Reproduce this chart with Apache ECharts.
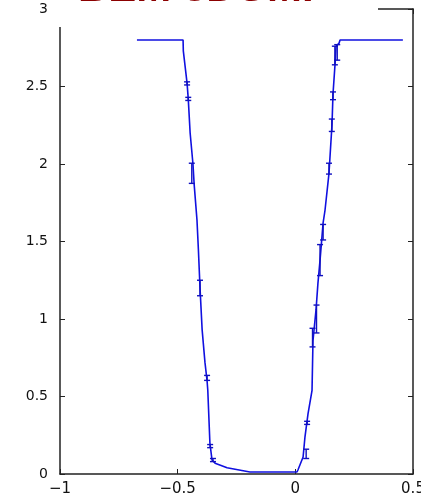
<!DOCTYPE html>
<html>
<head>
<meta charset="utf-8">
<style>
  html, body { margin: 0; padding: 0; background: #fff; }
  #chart { width: 421px; height: 500px; }
</style>
<script src="https://cdn.jsdelivr.net/npm/echarts@6/dist/echarts.min.js"></script>
</head>
<body>
<div id="chart"></div>
<script>
// profile (mean values)
const profileX = [-0.673, -0.477, -0.476, -0.46, -0.455, -0.447, -0.435, -0.43, -0.418, -0.412, -0.405,
  -0.396, -0.384, -0.375, -0.372, -0.363, -0.354, -0.341, -0.29, -0.193, 0.007, 0.011, 0.033, 0.041,
  0.054, 0.071, 0.075, 0.088, 0.096, 0.105, 0.118, 0.126, 0.143, 0.156, 0.16, 0.169, 0.173, 0.186, 0.19, 0.457];
const profileY = [2.8, 2.8, 2.73, 2.52, 2.42, 2.2, 2.0, 1.87, 1.64, 1.45, 1.2,
  0.93, 0.72, 0.6, 0.54, 0.2, 0.09, 0.07, 0.04, 0.013, 0.013, 0.026, 0.11, 0.24,
  0.39, 0.54, 0.86, 1.06, 1.23, 1.38, 1.62, 1.7, 1.94, 2.26, 2.45, 2.65, 2.76, 2.78, 2.8, 2.8];

// error bars: x, centre, half height
const errX = [-0.46, -0.455, -0.44, -0.405, -0.375, -0.362, -0.35, 0.046, 0.05, 0.073, 0.09, 0.105, 0.118, 0.143, 0.155, 0.16, 0.168, 0.178];
const errY = [2.52, 2.42, 1.94, 1.2, 0.62, 0.18, 0.09, 0.13, 0.33, 0.88, 1.0, 1.38, 1.56, 1.97, 2.25, 2.44, 2.7, 2.72];
const errH = [0.01, 0.01, 0.065, 0.05, 0.016, 0.01, 0.01, 0.03, 0.01, 0.06, 0.09, 0.1, 0.05, 0.035, 0.04, 0.025, 0.06, 0.05];

const xTicks = [-1, -0.5, 0, 0.5];
const yTicks = [0, 0.5, 1, 1.5, 2, 2.5, 3];

const chart = echarts.init(document.getElementById('chart'));

const lineData = profileX.map((x, i) => [x, profileY[i]]);
const errData = errX.map((x, i) => [x, errY[i] - errH[i], errY[i] + errH[i]]);

const axisCol = '#222';
const fmt = v => String(v).replace('-', '\u2212');

const frameAxis = {
  axisLine: { show: true, onZero: false, lineStyle: { color: axisCol, width: 1.5 } },
  axisTick: { show: true, inside: true, length: 5, lineStyle: { color: axisCol } },
  splitLine: { show: false }
};

const option = {
  animation: false,
  backgroundColor: '#fff',
  title: {
    text: 'BEM 3DUMP',
    left: 78,
    top: -32,
    padding: 0,
    z: 10,
    textStyle: { color: '#8b0000', fontSize: 42, fontWeight: 'bold', fontFamily: 'Liberation Sans', lineHeight: 42 }
  },
  graphic: [{
    type: 'rect', z: 8, left: 54, top: 0,
    shape: { width: 324, height: 27 },
    style: { fill: '#fff' }
  }],
  grid: { left: 60, right: 8, top: 9, bottom: 26, outerBoundsMode: 'none', containLabel: false },
  xAxis: [Object.assign({
    type: 'value', min: -1, max: 0.5, interval: 0.5, position: 'bottom',
    axisLabel: { color: '#111', fontSize: 15, fontFamily: 'DejaVu Sans', margin: 8, formatter: fmt, customValues: xTicks }
  }, frameAxis), Object.assign({
    type: 'value', min: -1, max: 0.5, interval: 0.5, position: 'top',
    axisLabel: { show: false }
  }, frameAxis)],
  yAxis: [Object.assign({
    type: 'value', min: 0, max: 3, interval: 0.5, position: 'left',
    axisLabel: { color: '#111', fontSize: 14, fontFamily: 'DejaVu Sans', margin: 12, formatter: v => String(v), customValues: yTicks }
  }, frameAxis), Object.assign({
    type: 'value', min: 0, max: 3, interval: 0.5, position: 'right',
    axisLabel: { show: false }
  }, frameAxis)],
  series: [{
    type: 'line',
    data: lineData,
    showSymbol: false,
    lineStyle: { color: '#1010e0', width: 1.6 },
    z: 3
  }, {
    type: 'custom',
    data: errData,
    z: 4,
    renderItem: (params, api) => {
      const x = api.value(0);
      const lo = api.coord([x, api.value(1)]);
      const hi = api.coord([x, api.value(2)]);
      const w = 3;
      const st = { stroke: '#1010c0', lineWidth: 1.4 };
      return {
        type: 'group',
        children: [
          { type: 'line', shape: { x1: lo[0], y1: lo[1], x2: hi[0], y2: hi[1] }, style: st },
          { type: 'line', shape: { x1: lo[0] - w, y1: lo[1], x2: lo[0] + w, y2: lo[1] }, style: st },
          { type: 'line', shape: { x1: hi[0] - w, y1: hi[1], x2: hi[0] + w, y2: hi[1] }, style: st }
        ]
      };
    }
  }]
};

chart.setOption(option);
</script>
</body>
</html>
